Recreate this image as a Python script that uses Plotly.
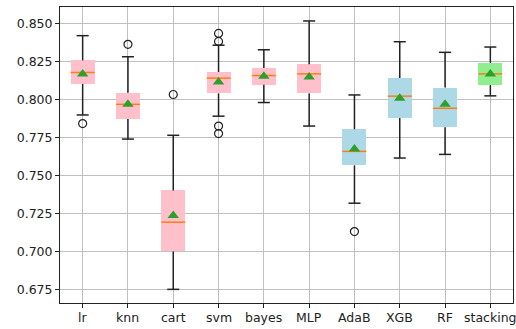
import plotly.graph_objects as go

names = ["lr", "knn", "cart", "svm", "bayes", "MLP", "AdaB", "XGB", "RF", "stacking"]
q1 = [0.8105, 0.7874, 0.7000, 0.8042, 0.8100, 0.8042, 0.7567, 0.7880, 0.7819, 0.8097]
q3 = [0.8260, 0.8046, 0.7402, 0.8183, 0.8209, 0.8235, 0.7806, 0.8143, 0.8081, 0.8244]
median = [0.8180, 0.7970, 0.7193, 0.8143, 0.8160, 0.8171, 0.7660, 0.8024, 0.7944, 0.8171]
mean = [0.8170, 0.7970, 0.7237, 0.8118, 0.8155, 0.8150, 0.7675, 0.8010, 0.7970, 0.8170]
low = [0.7900, 0.7741, 0.6750, 0.7892, 0.7982, 0.7827, 0.7318, 0.7616, 0.7640, 0.8026]
high = [0.8423, 0.8284, 0.7766, 0.8360, 0.8330, 0.8520, 0.8032, 0.8383, 0.8313, 0.8348]
outliers = {
    "lr": [0.7843],
    "knn": [0.8366],
    "cart": [0.8035],
    "svm": [0.8438, 0.8385, 0.7827, 0.7777],
    "AdaB": [0.7131],
}
colors = ["pink"] * 6 + ["lightblue"] * 3 + ["lightgreen"]
yticks = [0.675, 0.700, 0.725, 0.750, 0.775, 0.800, 0.825, 0.850]

pos = list(range(1, len(names) + 1))
box_w = 0.53
cap_half = 0.133
font = dict(family="DejaVu Sans", size=12.5, color="#222222")

fig = go.Figure()

fig.add_trace(go.Bar(
    x=pos, y=[b - a for a, b in zip(q1, q3)], base=q1, width=box_w,
    marker=dict(color=colors, line=dict(width=0)), showlegend=False, hoverinfo="skip"))

wx, wy = [], []
for p, a, b, lo, hi in zip(pos, q1, q3, low, high):
    wx += [p, p, None, p, p, None, p - cap_half, p + cap_half, None, p - cap_half, p + cap_half, None]
    wy += [b, hi, None, a, lo, None, hi, hi, None, lo, lo, None]
fig.add_trace(go.Scatter(x=wx, y=wy, mode="lines", line=dict(color="#222222", width=1.5),
                         showlegend=False, hoverinfo="skip"))

mx, my = [], []
for p, m in zip(pos, median):
    mx += [p - box_w / 2, p + box_w / 2, None]
    my += [m, m, None]
fig.add_trace(go.Scatter(x=mx, y=my, mode="lines", line=dict(color="#ff7f0e", width=1.5),
                         showlegend=False, hoverinfo="skip"))

ox, oy = [], []
for n, vals in outliers.items():
    p = pos[names.index(n)]
    for v in vals:
        ox.append(p)
        oy.append(v)
fig.add_trace(go.Scatter(x=ox, y=oy, mode="markers",
                         marker=dict(symbol="circle-open", size=8, color="#222222", line=dict(width=1.2)),
                         showlegend=False, hoverinfo="skip"))

fig.add_trace(go.Scatter(x=pos, y=mean, mode="markers",
                         marker=dict(symbol="triangle-up", size=10, color="#2ca02c"),
                         showlegend=False, hoverinfo="skip"))

axis_common = dict(showline=True, linecolor="#222222", linewidth=1, mirror=True,
                   showgrid=True, gridcolor="#c0c0c0", gridwidth=1,
                   ticks="outside", ticklen=4, tickcolor="#222222", zeroline=False,
                   tickfont=font)

for p, n in zip(pos, names):
    fig.add_annotation(x=p, y=0, xref="x", yref="paper", text=n, showarrow=False,
                       xanchor="center", yanchor="top", yshift=-5, font=font)

fig.update_layout(
    width=516, height=329,
    margin=dict(l=60, r=3, t=7, b=26),
    plot_bgcolor="white", paper_bgcolor="white",
    xaxis=dict(range=[0.5, len(names) + 0.5], tickvals=pos, showticklabels=False, **axis_common),
    yaxis=dict(range=[0.666, 0.8612], tickvals=yticks, tickformat=".3f", **axis_common),
    bargap=0,
)

fig.write_html("out.html")
